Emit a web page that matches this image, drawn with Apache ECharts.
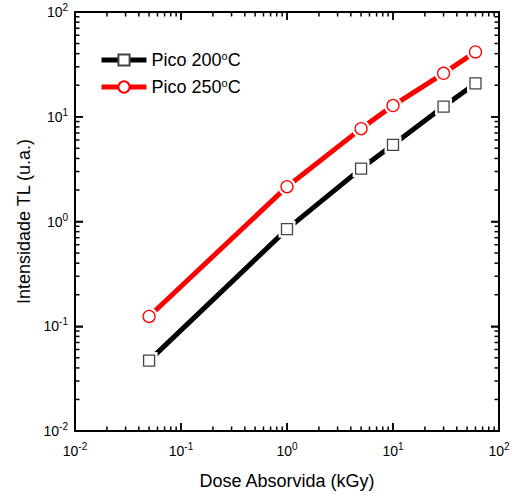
<!DOCTYPE html>
<html>
<head>
<meta charset="utf-8">
<script src="https://cdn.jsdelivr.net/npm/echarts@6/dist/echarts.min.js"></script>
<style>
html,body{margin:0;padding:0;background:#fff;}
#chart{width:516px;height:495px;}
</style>
</head>
<body>
<div id="chart"></div>
<script>
// ---- data ----
const doseKGy = [0.05, 1, 5, 10, 30, 60];
const pico200 = [0.047, 0.845, 3.2, 5.4, 12.5, 20.8];
const pico250 = [0.124, 2.15, 7.7, 12.8, 26, 41.6];
const seriesNames = ['Pico 200°C', 'Pico 250°C'];
const xTitle = 'Dose Absorvida (kGy)';
const yTitle = 'Intensidade TL (u.a.)';
const axisMin = 0.01, axisMax = 100;

const FONT = 'Liberation Sans';

// tick values: decades (major) and 2..9 x 10^k (minor)
const tickMarks = [];
for (let k = -2; k <= 2; k++) {
  tickMarks.push([Math.pow(10, k), Math.pow(10, k), 1]);
  if (k < 2) for (let m = 2; m <= 9; m++) tickMarks.push([m * Math.pow(10, k), m * Math.pow(10, k), 0]);
}

const pairs = (xs, ys) => xs.map((x, i) => [x, ys[i]]);

function expLabel(v) {
  const e = Math.round(Math.log10(v));
  return '{b|10}{s|' + e + '}';
}
function labelRich() {
  return {
    b: { fontSize: 14, fontFamily: FONT, color: '#000' },
    s: { fontSize: 10, fontFamily: FONT, color: '#000', padding: [0, 0, 9, 0] }
  };
}

function tickFill() { return { fill: '#000000' }; }
function renderTicks(params, api) {
  const v = api.value(0);
  const L = api.value(2) ? 8 : 4.5;
  const w = 1.5;
  const cs = params.coordSys;
  const px = api.coord([v, axisMin])[0];
  const py = api.coord([axisMin, v])[1];
  const bottom = cs.y + cs.height, right = cs.x + cs.width;
  return {
    type: 'group',
    children: [
      { type: 'rect', shape: { x: px - w / 2, y: bottom - L, width: w, height: L }, style: tickFill() },
      { type: 'rect', shape: { x: px - w / 2, y: cs.y, width: w, height: L }, style: tickFill() },
      { type: 'rect', shape: { x: cs.x, y: py - w / 2, width: L, height: w }, style: tickFill() },
      { type: 'rect', shape: { x: right - L, y: py - w / 2, width: L, height: w }, style: tickFill() }
    ]
  };
}

function baseAxis() {
  return {
    type: 'log',
    logBase: 10,
    min: axisMin,
    max: axisMax,
    axisLine: { show: true, onZero: false, lineStyle: { color: '#000', width: 2 } },
    axisTick: { show: true, inside: true, length: 8, lineStyle: { color: '#000', width: 1.5 } },
    splitLine: { show: false }
  };
}

const chart = echarts.init(document.getElementById('chart'), null, { renderer: 'svg' });

const markerColors = ['#444444', '#ff0000'];
const lineColors = ['#000000', '#ff0000'];
const symbols = ['rect', 'circle'];
const markerSizes = [11, 12];
const datasets = [pairs(doseKGy, pico200), pairs(doseKGy, pico250)];

const series = [];
datasets.forEach((d, i) => {
  series.push({
    name: seriesNames[i],
    type: 'line',
    data: d,
    showSymbol: false,
    symbol: symbols[i],
    symbolSize: markerSizes[i],
    lineStyle: { color: lineColors[i], width: 5 },
    itemStyle: { color: '#ffffff', borderColor: markerColors[i], borderWidth: 1.3 },
    z: 2
  });
  series.push({
    type: 'scatter',
    data: d,
    symbol: symbols[i],
    symbolSize: markerSizes[i] + 6,
    itemStyle: { color: '#ffffff', borderWidth: 0, opacity: 1 },
    silent: true,
    z: 3
  });
  series.push({
    type: 'scatter',
    data: d,
    symbol: symbols[i],
    symbolSize: markerSizes[i],
    itemStyle: { color: '#ffffff', borderColor: markerColors[i], borderWidth: 1.3, opacity: 1 },
    silent: true,
    z: 4
  });
});
series.push({
  type: 'custom',
  xAxisIndex: 0,
  yAxisIndex: 0,
  data: tickMarks,
  renderItem: renderTicks,
  silent: true,
  z: 5
});

chart.setOption({
  animation: false,
  backgroundColor: '#ffffff',
  textStyle: { fontFamily: FONT },
  grid: { left: 75, right: 17, top: 12, bottom: 60 },
  legend: {
    data: seriesNames,
    orient: 'vertical',
    left: 94,
    top: 45,
    itemWidth: 45,
    itemHeight: 14,
    itemGap: 8,
    lineStyle: { width: 5 },
    formatter: name => '{a|' + name.replace('°C', '') + '}{s|o}{a|C}',
    textStyle: {
      rich: {
        a: { fontSize: 18, fontFamily: FONT, color: '#000' },
        s: { fontSize: 11, fontFamily: FONT, color: '#000', padding: [0, 0, 9, 0] }
      }
    }
  },
  xAxis: [
    Object.assign(baseAxis(), {
      position: 'bottom',
      name: xTitle,
      nameLocation: 'middle',
      nameGap: 41,
      nameTextStyle: { fontSize: 18, fontFamily: FONT, color: '#000' },
      axisLabel: { show: true, margin: 10, formatter: expLabel, rich: labelRich() }
    }),
    Object.assign(baseAxis(), {
      position: 'top',
      axisLabel: { show: false }
    })
  ],
  yAxis: [
    Object.assign(baseAxis(), {
      position: 'left',
      name: yTitle,
      nameLocation: 'middle',
      nameGap: 38,
      nameTextStyle: { fontSize: 18, fontFamily: FONT, color: '#000' },
      axisLabel: { show: true, margin: 7, formatter: expLabel, rich: labelRich() }
    }),
    Object.assign(baseAxis(), {
      position: 'right',
      axisLabel: { show: false }
    })
  ],
  series: series
});
</script>
</body>
</html>
